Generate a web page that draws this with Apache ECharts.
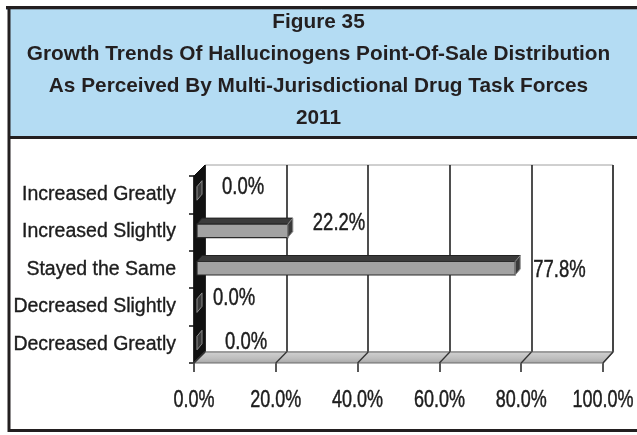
<!DOCTYPE html>
<html>
<head>
<meta charset="utf-8">
<script src="https://cdn.jsdelivr.net/npm/echarts@6/dist/echarts.min.js"></script>
<style>
  html, body { margin: 0; padding: 0; background: #fff; }
  #chart { width: 637px; height: 435px; }
</style>
</head>
<body>
<div id="chart"></div>
<script>
// ---- chart content ----
const titleLines = [
  'Figure 35',
  'Growth Trends Of Hallucinogens Point-Of-Sale Distribution',
  'As Perceived By Multi-Jurisdictional Drug Task Forces',
  '2011'
];
const categories = [
  'Increased Greatly',
  'Increased Slightly',
  'Stayed the Same',
  'Decreased Slightly',
  'Decreased Greatly'
];
const shares = [0.0, 22.2, 77.8, 0.0, 0.0];
const valueTicks = [0, 20, 40, 60, 80, 100];

// ---- layout ----
const FRONT = { left: 194, top: 176, width: 409, height: 187 };
const DEPTH = { dx: 11, dy: -11 };
const BACK = { left: FRONT.left + DEPTH.dx, top: FRONT.top + DEPTH.dy, width: 408, height: FRONT.height };
// where each value label sits relative to its bar end / category centre
const labelNudge = [[20, -7], [20, -9], [13, 1], [11, -9], [23, -2]];
// chart lettering is tall and narrow: draw it stretched vertically
const TEXT_STRETCH = 1.3;

const INK = '#231f20';
const SANS = '"Liberation Sans", Arial, sans-serif';
const pct = v => v.toFixed(1) + '%';

const chart = echarts.init(document.getElementById('chart'), null, { renderer: 'canvas' });

function tallText(str, x, y, align, size) {
  return {
    type: 'text', x: x, y: y, scaleY: TEXT_STRETCH,
    style: { text: str, x: 0, y: 0, align: align, verticalAlign: 'middle',
             font: size + 'px ' + SANS, fill: '#1c1c1c', stroke: '#1c1c1c', lineWidth: 0.35 }
  };
}

function renderBar(params, api) {
  const idx = api.value(1);
  const v = api.value(0);
  const base = api.coord([0, idx]);
  const end = api.coord([v, idx]);
  const cy = base[1];
  const x0 = base[0] + 3, x1 = end[0] + 3;
  const y0 = cy - 8, h = 13.5, dx = 5, dy = 6;
  const nudge = labelNudge[idx] || [16, -6];
  return {
    type: 'group',
    children: [
      { type: 'polygon',
        shape: { points: [[x0, y0], [x1, y0], [x1 + dx, y0 - dy], [x0 + dx, y0 - dy]] },
        style: { fill: '#3b3b3b', stroke: '#222', lineWidth: 1 } },
      { type: 'rect',
        shape: { x: x0, y: y0, width: x1 - x0, height: h },
        style: { fill: '#a2a2a2', stroke: '#2a2a2a', lineWidth: 1.2 } },
      { type: 'polygon',
        shape: { points: [[x1, y0], [x1 + dx, y0 - dy], [x1 + dx, y0 + h - dy], [x1, y0 + h]] },
        style: { fill: '#3a3a3a', stroke: '#8a8a8a', lineWidth: 1 } },
      tallText(pct(v), x1 + dx + nudge[0], cy + nudge[1], 'left', 18.5)
    ]
  };
}

// value-axis tick labels, placed below the floor at each tick position
function renderTickLabel(params, api) {
  const t = api.value(0);
  const p = api.coord([t, 0]);
  return tallText(pct(t), p[0], FRONT.top + FRONT.height + 38, 'center', 18);
}

chart.setOption({
  animation: false,
  backgroundColor: '#fff',
  title: {
    text: titleLines.join('\n'),
    left: 'center',
    top: 1,
    textStyle: { fontFamily: SANS, fontWeight: 'bold',
                 fontSize: 20.8, lineHeight: 32, color: INK }
  },
  grid: [
    { left: FRONT.left, top: FRONT.top, width: FRONT.width, height: FRONT.height,
      show: false, outerBoundsMode: 'none', containLabel: false },
    { left: BACK.left, top: BACK.top, width: BACK.width, height: BACK.height,
      outerBoundsMode: 'none', containLabel: false,
      show: true, backgroundColor: '#fff', borderColor: '#a0a0a0', borderWidth: 1 }
  ],
  xAxis: [
    { gridIndex: 0, type: 'value', min: valueTicks[0], max: valueTicks[valueTicks.length - 1],
      interval: valueTicks[1] - valueTicks[0],
      axisLine: { show: false },
      axisTick: { show: true, length: 9, lineStyle: { color: '#222', width: 1.5 } },
      axisLabel: { show: false },
      splitLine: { show: false } },
    { gridIndex: 1, type: 'value', min: valueTicks[0], max: valueTicks[valueTicks.length - 1],
      interval: valueTicks[1] - valueTicks[0],
      axisLine: { show: false }, axisTick: { show: false }, axisLabel: { show: false },
      splitLine: { show: true, lineStyle: { color: '#222', width: 1.6 } } }
  ],
  yAxis: [
    { gridIndex: 0, type: 'category', data: categories, inverse: true,
      axisLine: { show: true, lineStyle: { color: '#111', width: 1.5 } },
      axisTick: { show: true, length: 5, lineStyle: { color: '#111', width: 1.5 } },
      axisLabel: { margin: 18, fontFamily: SANS, fontSize: 19.5, color: '#1c1c1c',
                   textBorderColor: '#1c1c1c', textBorderWidth: 0.35 },
      splitLine: { show: false } },
    { gridIndex: 1, type: 'category', data: categories, inverse: true, show: false }
  ],
  series: [
    { type: 'custom', name: 'share',
      xAxisIndex: 0, yAxisIndex: 0,
      data: shares.map((v, i) => [v, i]),
      encode: { x: 0, y: 1 },
      renderItem: renderBar,
      clip: false,
      z: 10 },
    { type: 'custom', name: 'ticks',
      xAxisIndex: 0, yAxisIndex: 0,
      data: valueTicks.map(t => [t, 0]),
      encode: { x: 0, y: 1 },
      renderItem: renderTickLabel,
      clip: false, silent: true,
      z: 10 }
  ]
});

// ---- frame, walls and floor ----
const fx = v => chart.convertToPixel({ xAxisIndex: 0 }, v);
const bx = v => chart.convertToPixel({ xAxisIndex: 1 }, v);
const fBottom = FRONT.top + FRONT.height;
const bBottom = BACK.top + BACK.height;
const fL = fx(valueTicks[0]), fR = fx(valueTicks[valueTicks.length - 1]);
const bL = bx(valueTicks[0]), bR = bx(valueTicks[valueTicks.length - 1]);

const floorLines = valueTicks.map(t => ({
  type: 'line', z: 3,
  shape: { x1: bx(t), y1: bBottom, x2: fx(t), y2: fBottom },
  style: { stroke: '#333', lineWidth: 1.3 }
}));

chart.setOption({
  graphic: [
    // title panel
    { type: 'rect', z: -10, shape: { x: 8, y: 8, width: 629, height: 130 }, style: { fill: '#b4dcf3' } },
    { type: 'line', z: 5, shape: { x1: 6, y1: 7.5, x2: 637, y2: 7.5 }, style: { stroke: INK, lineWidth: 3 } },
    { type: 'line', z: 5, shape: { x1: 6, y1: 9.5, x2: 637, y2: 9.5 }, style: { stroke: '#8aa4b4', lineWidth: 1 } },
    { type: 'line', z: 5, shape: { x1: 8, y1: 137.5, x2: 637, y2: 137.5 }, style: { stroke: INK, lineWidth: 3 } },
    { type: 'line', z: 5, shape: { x1: 9, y1: 6, x2: 9, y2: 432 }, style: { stroke: INK, lineWidth: 3 } },
    { type: 'line', z: 5, shape: { x1: 8, y1: 430.5, x2: 637, y2: 430.5 }, style: { stroke: INK, lineWidth: 3 } },
    // side wall
    { type: 'polygon', z: 2,
      shape: { points: [[fL, FRONT.top], [bL, BACK.top], [bL, bBottom], [fL, fBottom]] },
      style: { fill: '#111', stroke: '#111', lineWidth: 1 } },
    // floor
    { type: 'polygon', z: 2,
      shape: { points: [[fL, fBottom], [bL, bBottom], [bR, bBottom], [fR, fBottom]] },
      style: {
        fill: new echarts.graphic.LinearGradient(0, 0, 0, 1, [
          { offset: 0, color: '#d2d2d2' }, { offset: 0.6, color: '#bdbdbd' }, { offset: 1, color: '#a5a5a5' }
        ]),
        stroke: '#6a6a6a', lineWidth: 1.2
      } },
    ...floorLines
  ]
});
</script>
</body>
</html>
